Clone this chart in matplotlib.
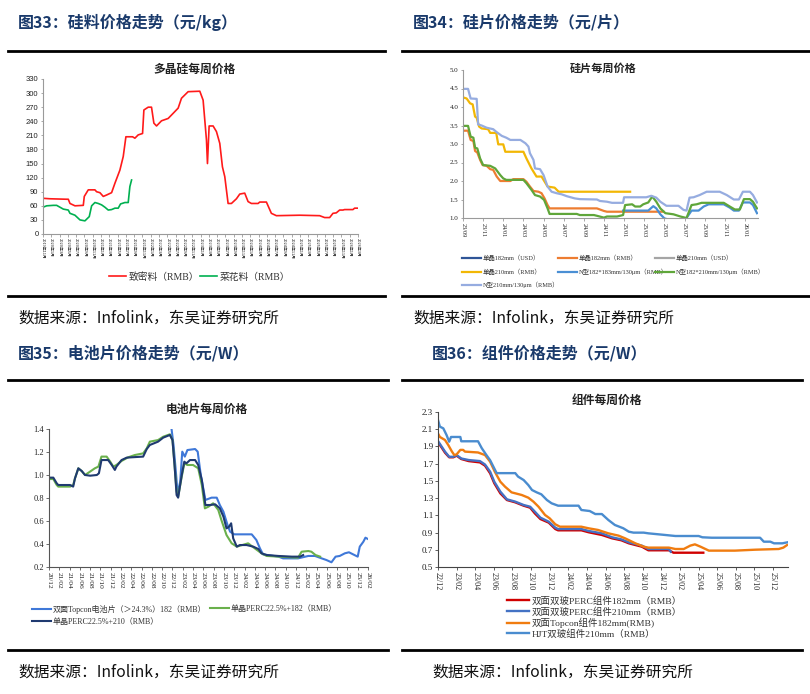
import matplotlib
matplotlib.use("Agg")
import matplotlib.pyplot as plt
from matplotlib.lines import Line2D

plt.rcParams['font.family'] = ['Noto Sans CJK SC', 'DejaVu Sans']
plt.rcParams['axes.unicode_minus'] = False

W, H = 810, 694

# ---------------- Panel 1: polysilicon (months since 2019-11) ----------------
p1_ticklabels = ['2019年11月',
                 '2020年1月', '2020年3月', '2020年5月', '2020年7月', '2020年9月', '2020年11月',
                 '2021年1月', '2021年3月', '2021年5月', '2021年7月', '2021年9月', '2021年11月',
                 '2022年1月', '2022年3月', '2022年5月', '2022年7月', '2022年9月', '2022年11月',
                 '2023年1月', '2023年3月', '2023年5月', '2023年7月', '2023年9月', '2023年11月',
                 '2024年1月', '2024年3月', '2024年5月', '2024年7月', '2024年9月', '2024年11月',
                 '2025年1月', '2025年3月', '2025年5月', '2025年7月', '2025年9月', '2025年11月',
                 '2026年1月', '2026年3月']
dense_x = [0, 1.69, 5.70, 6.10, 6.51, 7.71, 9.72, 9.96, 10.92, 12.53,
           12.93, 13.73, 14.54, 15.34, 16.55, 17.35, 18.55, 19.36, 20.0, 21.61,
           22.17, 22.97, 24.02, 24.34, 25.38, 26.18, 26.75, 27.39, 28.59, 30.2,
           31.41, 32.61, 33.41, 35.02, 37.83, 38.63, 39.44, 39.68, 40.08, 41.04,
           41.85, 42.65, 43.29, 43.86, 44.66, 45.46, 46.67, 47.47, 48.67, 49.48,
           50.28, 51.89, 52.29, 53.9, 55.1, 56.31, 61.93, 66.75, 67.95, 69.16,
           69.96, 70.76, 71.57, 72.37, 72.77, 74.78, 75.18, 75.98]
dense_y = [76, 75, 74, 74, 65, 60, 61, 80, 94, 94,
           90, 88, 80, 83, 88, 108, 136, 165, 207, 207,
           204, 211, 214, 264, 270, 270, 236, 230, 241, 246,
           257, 268, 289, 303, 304, 285, 200, 150, 230, 230,
           218, 193, 143, 122, 65, 65, 75, 85, 87, 69,
           65, 65, 68, 68, 44, 39, 40, 39, 35, 35,
           44, 45, 51, 51, 52, 52, 55, 55]
cauli_x = [0, 0.88, 2.49, 3.29, 4.10, 4.90, 6.10, 6.51, 7.71, 8.92,
           10.12, 11.16, 11.73, 12.53, 13.33, 14.14, 14.94, 15.74, 16.55, 17.35,
           18.15, 18.71, 19.76, 20.56, 20.96, 21.37]
cauli_y = [57, 60, 61, 61, 57, 53, 51, 44, 40, 30,
           28, 37, 60, 67, 65, 62, 57, 51, 52, 55,
           55, 64, 67, 67, 101, 115]

# ---------------- Panel 2: wafers (months since 2023-09) ----------------
p2_ticklabels = ['23/09', '23/11', '24/01', '24/03', '24/05', '24/07', '24/09', '24/11',
                 '25/01', '25/03', '25/05', '25/07', '25/09', '25/11', '26/01']
w182usd_x, w182usd_y = [], []
w210usd_x, w210usd_y = [], []
w182rmb_x = [0, 0.5, 0.76, 1.03, 1.2, 1.42, 1.7, 1.95, 2.35, 2.7, 3.0, 3.35, 3.7, 4.7,
             5.0, 6.0, 6.3, 6.65, 7.0, 7.5, 7.8, 8.1, 8.4, 8.6, 13.3, 14.0, 14.3, 19.9]
w182rmb_y = [3.36, 3.36, 3.11, 3.08, 2.81, 2.77, 2.57, 2.43, 2.41, 2.32, 2.30, 2.12, 2.00, 2.00,
             2.05, 2.05, 1.98, 1.85, 1.73, 1.71, 1.67, 1.53, 1.35, 1.26, 1.26, 1.19, 1.17, 1.17]
w210rmb_x = [0, 0.36, 0.7, 0.96, 1.2, 1.36, 1.6, 1.85, 2.5, 2.7, 3.3, 3.5, 4.0, 4.2,
             6.0, 6.3, 6.8, 7.3, 7.8, 8.4, 9.1, 9.5, 16.6]
w210rmb_y = [4.26, 4.23, 4.10, 4.07, 3.74, 3.71, 3.47, 3.42, 3.40, 3.30, 3.30, 2.99, 2.99, 2.79,
             2.79, 2.61, 2.34, 2.12, 2.12, 1.85, 1.82, 1.71, 1.71]
n183_x = [15.9, 18.4, 18.9, 19.2, 19.6, 20.0, 20.5, 21.8, 22.2, 22.7, 23.4, 23.9, 24.4,
          25.9, 26.5, 26.9, 27.4, 27.8, 28.5, 28.8, 29.2]
n183_y = [1.20, 1.20, 1.32, 1.26, 1.10, 0.99, 0.95, 0.95, 1.0, 1.20, 1.20, 1.31, 1.37,
          1.37, 1.28, 1.20, 1.20, 1.42, 1.42, 1.35, 1.13]
n182_210_x = [0, 0.5, 0.76, 1.03, 1.2, 1.42, 1.7, 2.0, 2.7, 3.2,
              3.7, 4.0, 4.3, 6.0, 6.3, 6.8, 7.15, 7.65, 8.05, 8.4,
              8.6, 11.3, 11.6, 13.0, 13.3, 14.0, 14.3, 15.3, 15.9, 16.1,
              16.8, 17.1, 17.6, 17.9, 18.4, 18.8, 19.2, 19.6, 20.1, 20.9,
              21.6, 22.2, 22.7, 23.2, 23.7, 25.9, 26.5, 27.0, 27.5, 27.9,
              28.5, 28.8, 29.2]
n182_210_y = [3.49, 3.49, 3.20, 3.17, 2.90, 2.88, 2.61, 2.43, 2.41, 2.34,
              2.16, 2.07, 2.03, 2.03, 1.94, 1.76, 1.62, 1.58, 1.49, 1.26,
              1.11, 1.11, 1.08, 1.08, 1.06, 1.01, 1.04, 1.04, 1.08, 1.35,
              1.37, 1.31, 1.31, 1.37, 1.42, 1.58, 1.44, 1.26, 1.13, 1.10,
              1.04, 1.0, 1.35, 1.37, 1.41, 1.41, 1.31, 1.23, 1.23, 1.51,
              1.51, 1.44, 1.26]
n210_x = [0, 0.5, 0.76, 1.36, 1.5, 1.85, 2.35, 3.0, 3.3, 3.85,
          4.3, 4.7, 5.7, 6.2, 6.5, 6.65, 7.0, 7.15, 7.65, 8.0,
          8.4, 8.8, 9.3, 9.8, 10.3, 11.1, 11.6, 13.3, 13.6, 14.3,
          14.8, 15.9, 16.0, 18.2, 18.7, 19.2, 19.6, 20.2, 21.4, 21.9,
          22.2, 22.5, 22.9, 23.5, 24.2, 25.5, 26.2, 26.9, 27.4, 27.8,
          28.5, 28.8, 29.2]
n210_y = [4.49, 4.49, 4.23, 4.22, 3.53, 3.50, 3.44, 3.40, 3.33, 3.22,
          3.17, 3.11, 3.11, 3.02, 2.93, 2.75, 2.57, 2.34, 2.32, 2.16,
          1.85, 1.71, 1.67, 1.64, 1.59, 1.53, 1.51, 1.50, 1.46, 1.44,
          1.41, 1.41, 1.56, 1.56, 1.60, 1.55, 1.44, 1.33, 1.33, 1.22,
          1.20, 1.55, 1.56, 1.62, 1.71, 1.71, 1.62, 1.50, 1.50, 1.71,
          1.71, 1.62, 1.42]

# ---------------- Panel 3: cells (months since 2020-12) ----------------
p3_ticklabels = ['20/12', '21/02', '21/04', '21/06', '21/08', '21/10', '21/12', '22/02',
                 '22/04', '22/06', '22/08', '22/10', '22/12', '23/02', '23/04', '23/06',
                 '23/08', '23/10', '23/12', '24/02', '24/04', '24/06', '24/08', '24/10',
                 '24/12', '25/02', '25/04', '25/06', '25/08', '25/10', '25/12', '26/02']
topcon_x = [23.8, 24.2, 24.6, 25.0, 25.5, 25.9, 26.4, 26.9, 28.4, 28.9,
            29.5, 30.4, 31.6, 32.6, 33.2, 33.9, 34.7, 35.2, 36.0, 39.4,
            40.3, 41.0, 41.6, 44.6, 45.5, 48.4, 50.4, 51.7, 53.0, 53.9,
            54.9, 55.7, 56.5, 57.5, 58.3, 59.1, 60.0, 60.4, 61.1, 61.5, 62.0]
topcon_y = [1.406, 1.261, 1.058, 0.841, 0.942, 1.203, 1.16, 1.217, 1.226, 1.203,
            1.0, 0.783, 0.803, 0.803, 0.739, 0.681, 0.565, 0.507, 0.484, 0.484,
            0.435, 0.362, 0.31, 0.29, 0.275, 0.275, 0.296, 0.296, 0.275, 0.261,
            0.241, 0.29, 0.296, 0.319, 0.328, 0.31, 0.29, 0.377, 0.42, 0.455, 0.443]
perc182_x = [0, 0.84, 1.5, 1.8, 4.1, 4.7, 5.05, 5.7, 6.35, 7.0,
             8.0, 8.9, 9.6, 10.2, 11.2, 11.9, 12.5, 13.1, 14.1, 15.4,
             16.7, 18.3, 19.0, 19.6, 21.2, 22.2, 23.5, 24.0, 24.4, 24.8,
             25.1, 25.8, 26.3, 26.9, 28.0, 29.0, 29.7, 30.3, 31.0, 31.9,
             32.9, 33.5, 34.5, 35.5, 36.5, 38.7, 40.0, 41.3, 42.3, 45.9,
             48.4, 49.1, 50.4, 51.0, 51.8, 52.7]
perc182_y = [0.965, 0.965, 0.913, 0.899, 0.899, 0.913, 0.971, 1.058, 1.035, 1.0,
             1.03, 1.058, 1.073, 1.16, 1.16, 1.116, 1.073, 1.087, 1.122, 1.154,
             1.174, 1.188, 1.232, 1.29, 1.304, 1.333, 1.354, 1.304, 1.087, 0.855,
             0.812, 0.986, 1.101, 1.087, 1.087, 1.058, 0.913, 0.71, 0.725, 0.754,
             0.696, 0.609, 0.478, 0.406, 0.377, 0.406, 0.362, 0.319, 0.296, 0.287,
             0.281, 0.333, 0.339, 0.333, 0.304, 0.29]
perc210_x = [0, 0.84, 1.5, 1.8, 4.1, 4.7, 5.05, 5.7, 6.35, 7.0,
             8.0, 9.3, 9.7, 10.2, 11.5, 12.2, 12.8, 13.1, 14.1, 15.1,
             16.1, 18.3, 19.0, 19.6, 21.2, 22.2, 23.5, 24.0, 24.4, 24.8,
             25.1, 25.8, 26.3, 26.7, 27.4, 28.4, 29.0, 29.7, 30.4, 31.3,
             32.3, 33.2, 33.9, 34.5, 35.0, 35.4, 35.8, 36.5, 37.1, 38.4,
             39.7, 40.7, 41.3, 42.3, 44.6, 47.2, 48.8, 49.4]
perc210_y = [0.977, 0.977, 0.928, 0.913, 0.913, 0.899, 0.971, 1.058, 1.035, 1.0,
             0.994, 1.0, 1.015, 1.13, 1.13, 1.087, 1.044, 1.073, 1.13, 1.151,
             1.154, 1.16, 1.226, 1.261, 1.29, 1.325, 1.348, 1.304, 1.087, 0.826,
             0.803, 1.0, 1.116, 1.101, 1.13, 1.13, 1.087, 0.957, 0.739, 0.739,
             0.745, 0.71, 0.638, 0.536, 0.55, 0.58, 0.449, 0.377, 0.391, 0.391,
             0.377, 0.356, 0.319, 0.304, 0.296, 0.29, 0.29, 0.304]

# ---------------- Panel 4: modules (months since 2022-12) ----------------
p4_ticklabels = ['22/12', '23/02', '23/04', '23/06', '23/08', '23/10', '23/12', '24/02',
                 '24/04', '24/06', '24/08', '24/10', '24/12', '25/02', '25/04', '25/06',
                 '25/08', '25/10', '25/12']
m_perc182_x = [0, 0.4, 0.75, 1.2, 1.65, 2.0, 2.5, 3.3, 4.5, 5.05,
               5.6, 6.05, 6.7, 7.4, 8.3, 9.2, 9.9, 10.4, 11.0, 11.9,
               12.6, 12.9, 15.4, 16.2, 17.6, 18.7, 19.7, 20.5, 21.9, 22.6,
               24.8, 25.3, 28.5]
m_perc182_y = [1.948, 1.886, 1.828, 1.774, 1.774, 1.793, 1.754, 1.73, 1.715, 1.677,
               1.588, 1.472, 1.355, 1.278, 1.251, 1.212, 1.189, 1.123, 1.057, 1.015,
               0.941, 0.926, 0.926, 0.903, 0.872, 0.833, 0.81, 0.775, 0.736, 0.694,
               0.694, 0.666, 0.666]
m_perc210_x = [0, 0.4, 0.75, 1.2, 1.65, 2.0, 2.5, 3.3, 4.5, 5.05,
               5.6, 6.05, 6.7, 7.4, 8.3, 9.2, 9.9, 10.4, 11.0, 11.9,
               12.6, 12.9, 15.4, 16.2, 17.6, 18.7, 19.7, 20.5, 21.9, 22.6,
               24.8, 25.0]
m_perc210_y = [1.963, 1.897, 1.84, 1.78, 1.78, 1.80, 1.76, 1.742, 1.73, 1.69,
               1.607, 1.49, 1.375, 1.286, 1.259, 1.22, 1.20, 1.143, 1.073, 1.026,
               0.957, 0.941, 0.941, 0.918, 0.891, 0.845, 0.821, 0.786, 0.748, 0.709,
               0.709, 0.678]
m_topcon_x = [0, 0.2, 0.75, 1.1, 1.5, 1.75, 2.0, 2.4, 2.7, 2.9,
              4.3, 5.05, 5.6, 6.1, 6.7, 7.2, 7.9, 9.0, 9.7, 10.25,
              10.8, 11.5, 12.0, 12.6, 13.1, 15.4, 16.2, 17.2, 18.3, 19.4,
              20.1, 21.2, 22.1, 22.6, 24.8, 25.5, 26.4, 27.1, 27.6, 28.2,
              29.1, 31.9, 34.1, 36.6, 37.1, 37.5]
m_topcon_y = [2.05, 2.01, 1.975, 1.917, 1.84, 1.80, 1.808, 1.86, 1.86, 1.84,
              1.83, 1.80, 1.723, 1.607, 1.49, 1.433, 1.367, 1.336, 1.305, 1.259,
              1.20, 1.104, 1.065, 0.996, 0.968, 0.968, 0.949, 0.93, 0.891, 0.864,
              0.833, 0.775, 0.736, 0.725, 0.725, 0.709, 0.709, 0.748, 0.763, 0.736,
              0.69, 0.69, 0.701, 0.709, 0.725, 0.755]
m_hjt_x = [0, 0.2, 0.57, 0.93, 1.2, 1.4, 2.4, 2.5, 4.3, 4.7,
           5.2, 5.6, 5.95, 6.3, 8.3, 8.6, 9.2, 9.7, 10.1, 10.6,
           11.1, 11.7, 12.2, 12.9, 15.1, 15.4, 16.3, 16.9, 17.6, 18.3,
           19.0, 19.9, 20.5, 21.0, 22.1, 22.6, 24.4, 25.5, 28.0, 28.4,
           29.4, 34.6, 35.0, 35.7, 36.1, 37.0, 37.5]
m_hjt_y = [2.207, 2.13, 2.11, 2.03, 1.955, 2.01, 2.01, 1.96, 1.96, 1.88,
           1.80, 1.74, 1.665, 1.59, 1.59, 1.55, 1.51, 1.452, 1.394, 1.367,
           1.344, 1.278, 1.24, 1.212, 1.212, 1.162, 1.15, 1.115, 1.115, 1.046,
           0.988, 0.95, 0.91, 0.899, 0.899, 0.891, 0.872, 0.86, 0.86, 0.845,
           0.84, 0.84, 0.794, 0.794, 0.775, 0.775, 0.786]

# ---------------- figure ----------------
fig = plt.figure(figsize=(W / 100, H / 100), dpi=100)
fig.patch.set_facecolor('white')

NAVY = '#1a3a6b'
SERIF = 'Liberation Serif'
SANS = 'Liberation Sans'
LEG_SERIF = ['Liberation Serif', 'Noto Sans CJK SC', 'DejaVu Sans']


def rect(l, t, r, b):
    return [l / W, 1 - b / H, (r - l) / W, (b - t) / H]


def hline(x0, x1, y, lw=2.0):
    fig.add_artist(Line2D([x0 / W, x1 / W], [1 - y / H, 1 - y / H],
                          transform=fig.transFigure, color='black', lw=lw))


def ftext(x, y, s, **kw):
    fig.text(x / W, 1 - y / H, s, **kw)


def leg(handle, label, x, y, fs, hl, family=None):
    lg = fig.legend([handle], [label], loc='center left',
                    bbox_to_anchor=(x / W, 1 - y / H), frameon=False,
                    borderpad=0, borderaxespad=0, handletextpad=0.3,
                    handlelength=hl, fontsize=fs)
    for t in lg.get_texts():
        t.set_color('#333333')
        if family is not None:
            t.set_fontfamily(family)
    return lg


def style_axes(ax, spine_color, ticklen=2.0):
    for s in ['top', 'right']:
        ax.spines[s].set_visible(False)
    for s in ['left', 'bottom']:
        ax.spines[s].set_color(spine_color)
        ax.spines[s].set_linewidth(0.8)
    ax.tick_params(axis='both', direction='out', length=ticklen, width=0.6,
                   color=spine_color, labelcolor='#222222')


# headers / footers
titles = [(18, 22, '图33：硅料价格走势（元/kg）'),
          (413, 22, '图34：硅片价格走势（元/片）'),
          (18, 353, '图35：电池片价格走势（元/W）'),
          (432, 353, '图36：组件价格走势（元/W）')]
for x, y, s in titles:
    ftext(x, y, s, fontsize=11.5, fontweight='bold', color=NAVY, va='center', ha='left')

sources = [(18, 318), (413, 318), (18, 672), (432, 672)]
for x, y in sources:
    ftext(x, y, '数据来源：Infolink，东吴证券研究所', fontsize=11.3, color='#111111',
          va='center', ha='left')

hline(8, 385, 51)
hline(8, 385, 296)
hline(402, 810, 51)
hline(402, 810, 296)
hline(8, 388, 380)
hline(8, 388, 650)
hline(402, 802, 380)
hline(402, 802, 650)

# ---------------- Panel 1 ----------------
ax1 = fig.add_axes(rect(43, 79, 358, 234))
l_dense, = ax1.plot(dense_x, dense_y, color='#ff1a1a', lw=1.2)
l_cauli, = ax1.plot(cauli_x, cauli_y, color='#00b050', lw=1.2)
ax1.set_xlim(0, 76)
ax1.set_ylim(0, 330)
ax1.set_yticks(range(0, 331, 30))
ax1.set_xticks(range(0, 77, 2))
ax1.set_xticklabels(p1_ticklabels, rotation=270, fontsize=2.8)
style_axes(ax1, '#9a9a9a', 1.8)
for t in ax1.get_yticklabels():
    t.set_fontfamily(SANS)
    t.set_fontsize(5.5)
ax1.tick_params(axis='x', pad=1)
ax1.tick_params(axis='y', pad=1.5)
ftext(195, 69, '多晶硅每周价格', fontsize=8.5, fontweight='bold', ha='center', va='center',
      color='#222222')
leg(l_dense, '致密料（RMB）', 109, 277, 7, 1.7, LEG_SERIF)
leg(l_cauli, '菜花料（RMB）', 200, 277, 7, 1.7, LEG_SERIF)

# ---------------- Panel 2 ----------------
ax2 = fig.add_axes(rect(463, 70, 758, 218))
h182u, = ax2.plot(w182usd_x, w182usd_y, color='#2f5597', lw=1.6)
h182r, = ax2.plot(w182rmb_x, w182rmb_y, color='#ed7d31', lw=1.6)
h210u, = ax2.plot(w210usd_x, w210usd_y, color='#a5a5a5', lw=1.6)
h210r, = ax2.plot(w210rmb_x, w210rmb_y, color='#f2b705', lw=1.6)
hn183, = ax2.plot(n183_x, n183_y, color='#4a8fd4', lw=1.6)
hn182, = ax2.plot(n182_210_x, n182_210_y, color='#5fa63a', lw=1.6)
hn210, = ax2.plot(n210_x, n210_y, color='#96ace0', lw=1.6)
ax2.set_xlim(0, 29.3)
ax2.set_ylim(1.0, 5.0)
ax2.set_yticks([1.0, 1.5, 2.0, 2.5, 3.0, 3.5, 4.0, 4.5, 5.0])
ax2.set_yticklabels(['1.0', '1.5', '2.0', '2.5', '3.0', '3.5', '4.0', '4.5', '5.0'])
ax2.set_xticks(range(0, 29, 2))
ax2.set_xticklabels(p2_ticklabels, rotation=270)
style_axes(ax2, '#9a9a9a', 1.8)
for t in ax2.get_yticklabels() + ax2.get_xticklabels():
    t.set_fontfamily(SERIF)
ax2.tick_params(axis='y', labelsize=5, pad=1.5)
ax2.tick_params(axis='x', labelsize=4.5, pad=1.5)
ftext(603, 68, '硅片每周价格', fontsize=8, fontweight='bold', ha='center', va='center',
      color='#222222')
P2FS, P2HL = 4.6, 3.0
leg(h182u, '单晶182mm（USD）', 462, 258, P2FS, P2HL, LEG_SERIF)
leg(h182r, '单晶182mm（RMB）', 558, 258, P2FS, P2HL, LEG_SERIF)
leg(h210u, '单晶210mm（USD）', 655, 258, P2FS, P2HL, LEG_SERIF)
leg(h210r, '单晶210mm（RMB）', 462, 272, P2FS, P2HL, LEG_SERIF)
leg(hn183, 'N型182*183mm/130μm（RMB）', 558, 272, P2FS, P2HL, LEG_SERIF)
leg(hn182, 'N型182*210mm/130μm（RMB）', 655, 272, P2FS, P2HL, LEG_SERIF)
leg(hn210, 'N型210mm/130μm（RMB）', 462, 285, P2FS, P2HL, LEG_SERIF)

# ---------------- Panel 3 ----------------
ax3 = fig.add_axes(rect(49, 429, 368, 567))
htop, = ax3.plot(topcon_x, topcon_y, color='#3f78d8', lw=1.5)
hp182, = ax3.plot(perc182_x, perc182_y, color='#6ab04c', lw=1.5)
hp210, = ax3.plot(perc210_x, perc210_y, color='#1f3a70', lw=1.5)
ax3.set_xlim(0, 62)
ax3.set_ylim(0.2, 1.4)
ax3.set_yticks([0.2, 0.4, 0.6, 0.8, 1.0, 1.2, 1.4])
ax3.set_yticklabels(['0.2', '0.4', '0.6', '0.8', '1.0', '1.2', '1.4'])
ax3.set_xticks(range(0, 63, 2))
ax3.set_xticklabels(p3_ticklabels, rotation=270)
style_axes(ax3, '#555555', 2.0)
for t in ax3.get_yticklabels() + ax3.get_xticklabels():
    t.set_fontfamily(SERIF)
ax3.tick_params(axis='y', labelsize=6, pad=1.5)
ax3.tick_params(axis='x', labelsize=5.3, pad=1.5)
ftext(207, 409, '电池片每周价格', fontsize=8.5, fontweight='bold', ha='center', va='center',
      color='#222222')
leg(htop, '双面Topcon电池片（＞24.3%）182（RMB）', 32, 609, 5.8, 2.3, LEG_SERIF)
leg(hp182, '单晶PERC22.5%+182（RMB）', 210, 609, 5.8, 2.3, LEG_SERIF)
leg(hp210, '单晶PERC22.5%+210（RMB）', 32, 622, 5.8, 2.3, LEG_SERIF)

# ---------------- Panel 4 ----------------
ax4 = fig.add_axes(rect(438, 412, 788, 567))
hm182, = ax4.plot(m_perc182_x, m_perc182_y, color='#d00000', lw=1.7)
hm210, = ax4.plot(m_perc210_x, m_perc210_y, color='#4472c4', lw=1.7)
hmtop, = ax4.plot(m_topcon_x, m_topcon_y, color='#f07c10', lw=1.7)
hmhjt, = ax4.plot(m_hjt_x, m_hjt_y, color='#4a8ccf', lw=1.7)
ax4.set_xlim(0, 37.6)
ax4.set_ylim(0.5, 2.3)
yt4 = [0.5, 0.7, 0.9, 1.1, 1.3, 1.5, 1.7, 1.9, 2.1, 2.3]
ax4.set_yticks(yt4)
ax4.set_yticklabels(['0.5', '0.7', '0.9', '1.1', '1.3', '1.5', '1.7', '1.9', '2.1', '2.3'])
ax4.set_xticks(range(0, 37, 2))
ax4.set_xticklabels(p4_ticklabels, rotation=270)
style_axes(ax4, '#444444', 2.0)
for t in ax4.get_yticklabels() + ax4.get_xticklabels():
    t.set_fontfamily(SERIF)
ax4.tick_params(axis='y', labelsize=6.5, pad=1.5)
ax4.tick_params(axis='x', labelsize=5.8, pad=1.5)
ftext(607, 400, '组件每周价格', fontsize=8.5, fontweight='bold', ha='center', va='center',
      color='#222222')
leg(hm182, '双面双玻PERC组件182mm（RMB）', 507, 601, 6.8, 2.3, LEG_SERIF)
leg(hm210, '双面双玻PERC组件210mm（RMB）', 507, 612, 6.8, 2.3, LEG_SERIF)
leg(hmtop, '双面Topcon组件182mm(RMB)', 507, 623, 6.8, 2.3, LEG_SERIF)
leg(hmhjt, 'HJT双玻组件210mm（RMB）', 507, 634, 6.8, 2.3, LEG_SERIF)

fig.savefig('out.png', dpi=100, facecolor='white')
